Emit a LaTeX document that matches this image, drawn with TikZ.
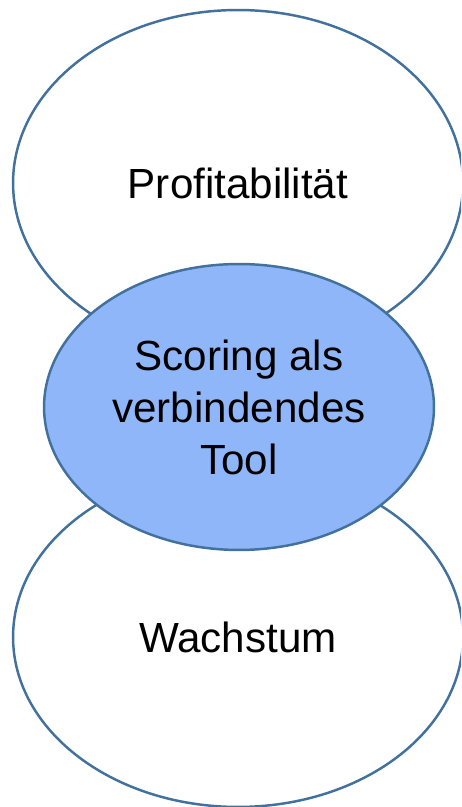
\documentclass[tikz,border=0pt]{standalone}
\usepackage{fontspec}
\setmainfont{Liberation Sans}
\usetikzlibrary{shapes.geometric}
\definecolor{rimblue}{RGB}{65,113,156}
\definecolor{coreblue}{RGB}{143,182,248}

\begin{document}
\begin{tikzpicture}[x=0.02cm,y=0.02cm,
    goal/.style={ellipse,draw=rimblue,line width=1.4pt,fill=white,
        inner sep=0pt,minimum width=9cm,font=\fontsize{24}{29.6}\selectfont},
    core/.style={goal,fill=coreblue,minimum width=7.8cm,minimum height=5.72cm,
        align=center}]
      \useasboundingbox (0,0) rectangle (461,807);
      \clip (0,0) rectangle (461,807);
      \node[goal,minimum height=6.92cm] (profit) at (238,624) {Profitabilität};
      \node[goal,minimum height=6.8cm] (growth) at (238,170) {Wachstum};
      \node[core] (scoring) at (239,400) {Scoring als\\verbindendes\\Tool};
    \end{tikzpicture}
\end{document}
